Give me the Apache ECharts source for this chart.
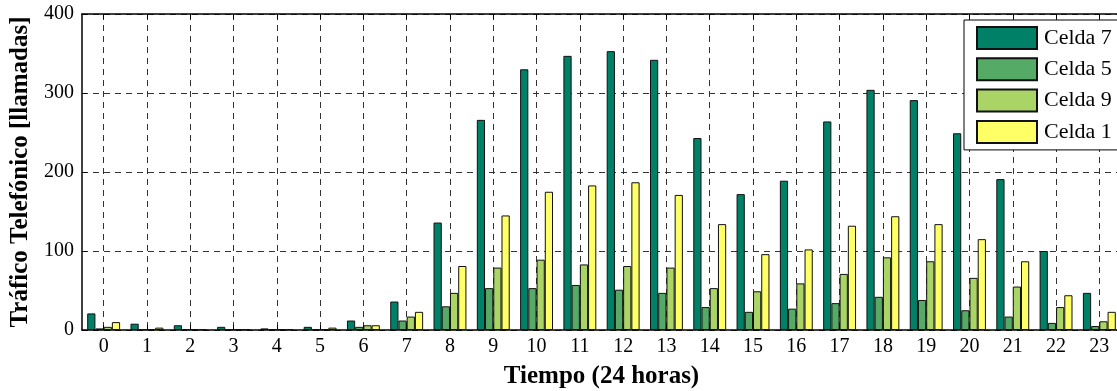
<!DOCTYPE html>
<html>
<head>
<meta charset="utf-8">
<script src="https://cdn.jsdelivr.net/npm/echarts@6/dist/echarts.min.js"></script>
<style>
  html, body { margin: 0; padding: 0; background: #fff; }
  #chart { width: 1117px; height: 391px; }
</style>
</head>
<body>
<div id="chart"></div>
<script>
// Hourly telephone traffic (calls) per cell
const hours = ['0','1','2','3','4','5','6','7','8','9','10','11','12','13','14','15','16','17','18','19','20','21','22','23'];
const celda7 = [21, 8, 6, 4, 2, 4, 12, 36, 136, 266, 330, 347, 353, 342, 243, 172, 189, 264, 304, 291, 249, 191, 100, 47];
const celda5 = [2, 1, 1, 1, 1, 1, 4, 12, 30, 53, 53, 57, 51, 47, 29, 23, 27, 34, 42, 38, 25, 17, 9, 5];
const celda9 = [4, 1, 1, 1, 1, 1, 6, 17, 47, 79, 89, 83, 81, 79, 53, 49, 59, 71, 92, 87, 66, 55, 29, 11];
const celda1 = [10, 3, 1, 1, 1, 3, 6, 23, 81, 145, 175, 183, 187, 171, 134, 96, 102, 132, 144, 134, 115, 87, 44, 23];
const yTicks = [0, 100, 200, 300, 400];

const serif = '"Liberation Serif", "DejaVu Serif", serif';
const gridDash = { color: '#333', width: 1, type: [6, 5] };

function bar(name, data, color) {
  return {
    name: name,
    type: 'bar',
    data: data,
    barGap: '0%',
    barCategoryGap: '24%',
    itemStyle: { color: color, borderColor: '#111', borderWidth: 1 },
    emphasis: { disabled: true }
  };
}

const chart = echarts.init(document.getElementById('chart'), null, { renderer: 'canvas' });
chart.setOption({
  animation: false,
  backgroundColor: '#fff',
  grid: { left: 82, top: 14, width: 1039, height: 316, containLabel: false, outerBoundsMode: 'none' },
  legend: {
    orient: 'vertical',
    left: 964,
    top: 20,
    icon: 'rect',
    itemWidth: 60,
    itemHeight: 22,
    itemGap: 7.3,
    padding: [6, 10, 6, 12],
    backgroundColor: '#fff',
    borderColor: '#000',
    borderWidth: 1,
    textStyle: { fontFamily: serif, fontSize: 22, color: '#000', padding: [0, 0, 0, 2] },
    data: ['Celda 7', 'Celda 5', 'Celda 9', 'Celda 1']
  },
  xAxis: [{
    type: 'category',
    data: hours,
    boundaryGap: true,
    name: 'Tiempo (24 horas)',
    nameLocation: 'middle',
    nameGap: 34,
    nameTextStyle: { fontFamily: serif, fontSize: 25, fontWeight: 'bold', color: '#000' },
    axisLine: { show: true, lineStyle: { color: '#000', width: 1.5 } },
    axisTick: { show: true, alignWithLabel: true, inside: true, length: 5, lineStyle: { color: '#000' } },
    axisLabel: { fontFamily: serif, fontSize: 20, color: '#000', margin: 7, interval: 0 },
    splitLine: { show: true, alignWithLabel: true, interval: 0, lineStyle: gridDash }
  }, {
    // top frame line with inward ticks
    type: 'category',
    data: hours,
    position: 'top',
    boundaryGap: true,
    axisLine: { show: true, lineStyle: { color: '#000', width: 1.5 } },
    axisTick: { show: true, alignWithLabel: true, inside: true, length: 5, lineStyle: { color: '#000' } },
    axisLabel: { show: false },
    splitLine: { show: false }
  }],
  yAxis: {
    type: 'value',
    min: yTicks[0],
    max: yTicks[yTicks.length - 1],
    interval: 100,
    name: 'Tráfico Telefónico [llamadas]',
    nameLocation: 'middle',
    nameGap: 48,
    nameTextStyle: { fontFamily: serif, fontSize: 25, fontWeight: 'bold', color: '#000' },
    axisLine: { show: true, lineStyle: { color: '#000', width: 1.5 } },
    axisTick: { show: true, inside: true, length: 5, lineStyle: { color: '#000' } },
    axisLabel: { fontFamily: serif, fontSize: 20, color: '#000', margin: 8 },
    splitLine: { show: true, lineStyle: gridDash }
  },
  series: [
    bar('Celda 7', celda7, '#008066'),
    bar('Celda 5', celda5, '#55aa66'),
    bar('Celda 9', celda9, '#aad466'),
    bar('Celda 1', celda1, '#ffff66')
  ]
});
</script>
</body>
</html>
